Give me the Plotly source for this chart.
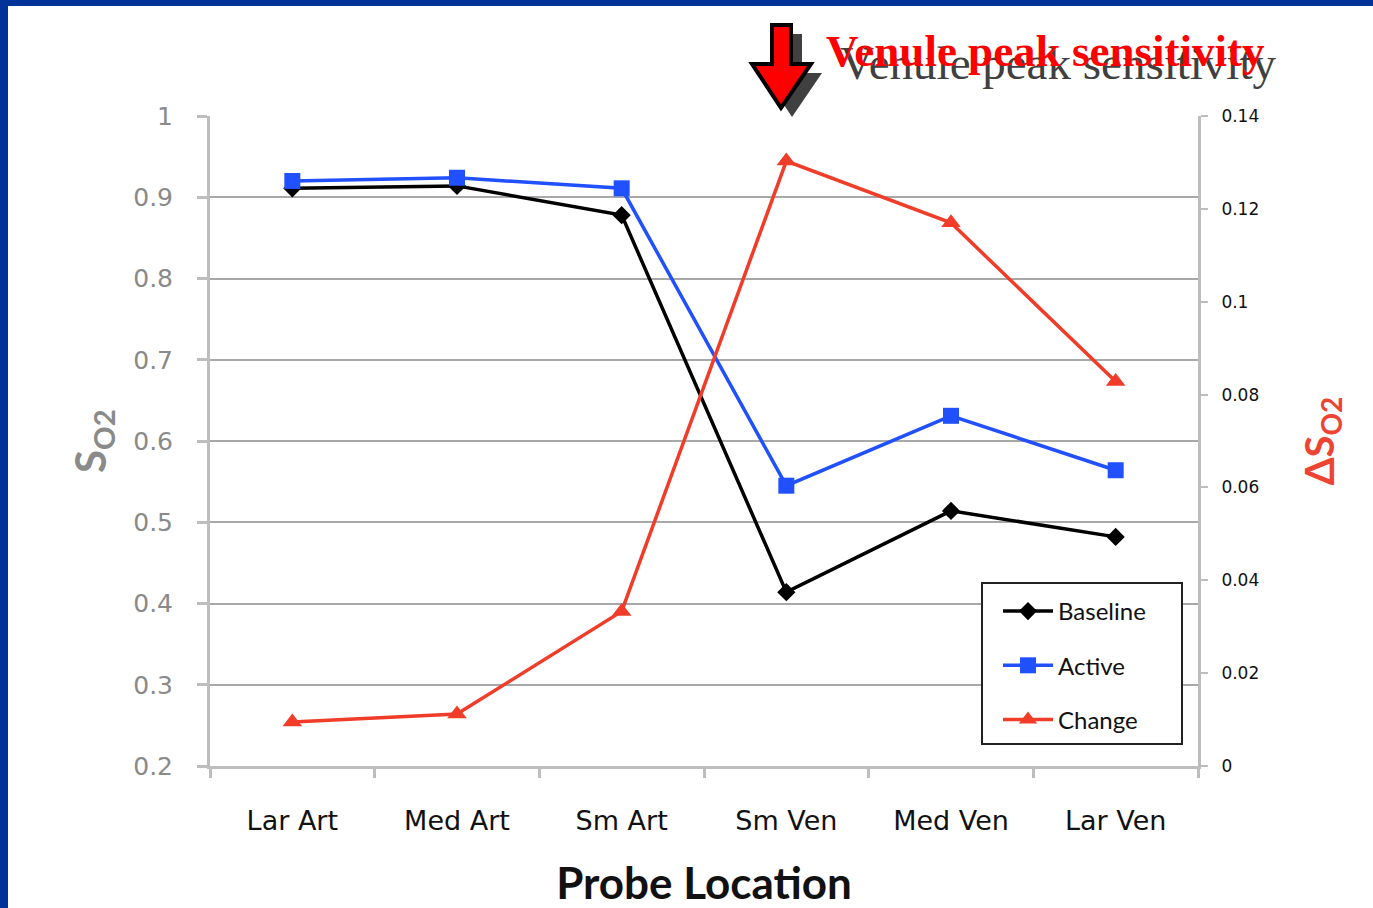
import plotly.graph_objects as go

locations = ["Lar Art", "Med Art", "Sm Art", "Sm Ven", "Med Ven", "Lar Ven"]
baseline = [0.911, 0.914, 0.878, 0.414, 0.514, 0.482]
active = [0.920, 0.924, 0.911, 0.545, 0.631, 0.564]
change = [0.0095, 0.0112, 0.0333, 0.1303, 0.1170, 0.0828]

W, H = 1373, 908
L, R, T, B = 210, 175, 116, 142


def px(x):
    return (x - L) / (W - L - R)


def py(y):
    return (H - B - y) / (H - T - B)


def arrow_path(dx=0, dy=0):
    pts = [(772, 25), (791, 25), (791, 64), (811, 64), (781, 108), (752, 64), (772, 64)]
    return "M " + " L ".join(f"{px(x + dx):.5f},{py(y + dy):.5f}" for x, y in pts) + " Z"


fig = go.Figure()
fig.add_trace(go.Scatter(x=locations, y=baseline, name="Baseline", legendgroup="a",
                         mode="lines+markers", line=dict(color="#000000", width=3.5),
                         marker=dict(symbol="diamond", size=14, color="#000000")))
fig.add_trace(go.Scatter(x=locations, y=active, name="Active", legendgroup="b",
                         mode="lines+markers", line=dict(color="#2050ff", width=3.5),
                         marker=dict(symbol="square", size=16, color="#2050ff")))
fig.add_trace(go.Scatter(x=locations, y=change, name="Change", legendgroup="c", yaxis="y2",
                         mode="lines+markers", line=dict(color="#f03c28", width=3.5),
                         marker=dict(symbol="triangle-up", size=17, color="#f03c28")))

fig.update_layout(
    width=W, height=H,
    margin=dict(l=L, r=R, t=T, b=B, autoexpand=False),
    paper_bgcolor="#003399",
    plot_bgcolor="rgba(0,0,0,0)",
    showlegend=True,
    legend=dict(x=px(998), y=py(589), xanchor="left", yanchor="top",
                bgcolor="rgba(0,0,0,0)", borderwidth=0, itemwidth=50,
                tracegroupgap=20, traceorder="grouped",
                font=dict(family="Lato", size=24, color="#111111")),
    xaxis=dict(type="category", tickson="boundaries", ticks="outside", ticklen=9,
               tickcolor="#bdbdbd", tickwidth=3, showline=True, linecolor="#bdbdbd",
               linewidth=3, showgrid=False, range=[-0.5, 5.5], ticklabelstandoff=29,
               automargin=False,
               tickfont=dict(family="DejaVu Sans", size=27, color="#111111"),
               title=dict(text="<b>Probe Location</b>", standoff=42,
                          font=dict(family="Lato", size=44, color="#111111"))),
    yaxis=dict(range=[0.2, 1.0], dtick=0.1, tick0=0.2, ticks="outside", ticklen=10,
               tickcolor="#bdbdbd", tickwidth=3, showline=True, linecolor="#bdbdbd",
               linewidth=3, showgrid=True, gridcolor="#a8a8a8", gridwidth=2,
               zeroline=False, ticklabelstandoff=19, automargin=False,
               tickfont=dict(family="DejaVu Sans", size=25, color="#8a8a8a"),
               title=dict(text="<b>S<sub>O2</sub></b>", standoff=14,
                          font=dict(family="Lato", size=42, color="#8a8a8a"))),
    yaxis2=dict(range=[0, 0.14], dtick=0.02, overlaying="y", side="right",
                ticks="outside", ticklen=7, tickcolor="#bdbdbd", tickwidth=2,
                showline=True, linecolor="#bdbdbd", linewidth=3, showgrid=False,
                zeroline=False, ticklabelstandoff=10, automargin=False,
                tickfont=dict(family="DejaVu Sans", size=17, color="#111111"),
                title=dict(text="<b>ΔS<sub>O2</sub></b>", standoff=48,
                           font=dict(family="Lato", size=40, color="#ee4433"))),
    shapes=[
        dict(type="rect", xref="paper", yref="paper", layer="below",
             x0=px(8), x1=px(W + 10), y0=py(6), y1=py(H + 10),
             fillcolor="white", line=dict(width=0)),
        dict(type="rect", xref="paper", yref="paper", layer="above",
             x0=px(982), x1=px(1182), y0=py(583), y1=py(744),
             fillcolor="white", line=dict(color="#222222", width=2)),
        dict(type="path", xref="paper", yref="paper", layer="above",
             path=arrow_path(11, 9), fillcolor="#404040", line=dict(width=0)),
        dict(type="path", xref="paper", yref="paper", layer="above",
             path=arrow_path(), fillcolor="#ff0000", line=dict(color="#000000", width=4)),
    ],
    annotations=[
        dict(text="Venule peak sensitivity", xref="paper", yref="paper",
             x=px(838), y=py(63), xanchor="left", yanchor="middle", showarrow=False,
             font=dict(family="Liberation Serif", size=47, color="#404040")),
        dict(text="<b>Venule peak sensitivity</b>", xref="paper", yref="paper",
             x=px(824), y=py(51), xanchor="left", yanchor="middle", showarrow=False,
             font=dict(family="Liberation Serif", size=45, color="#ff0000")),
    ],
)

fig.write_html("out.html", config={"displayModeBar": False},
               post_script="document.body.style.margin = '0'; document.body.style.overflow = 'hidden';")
